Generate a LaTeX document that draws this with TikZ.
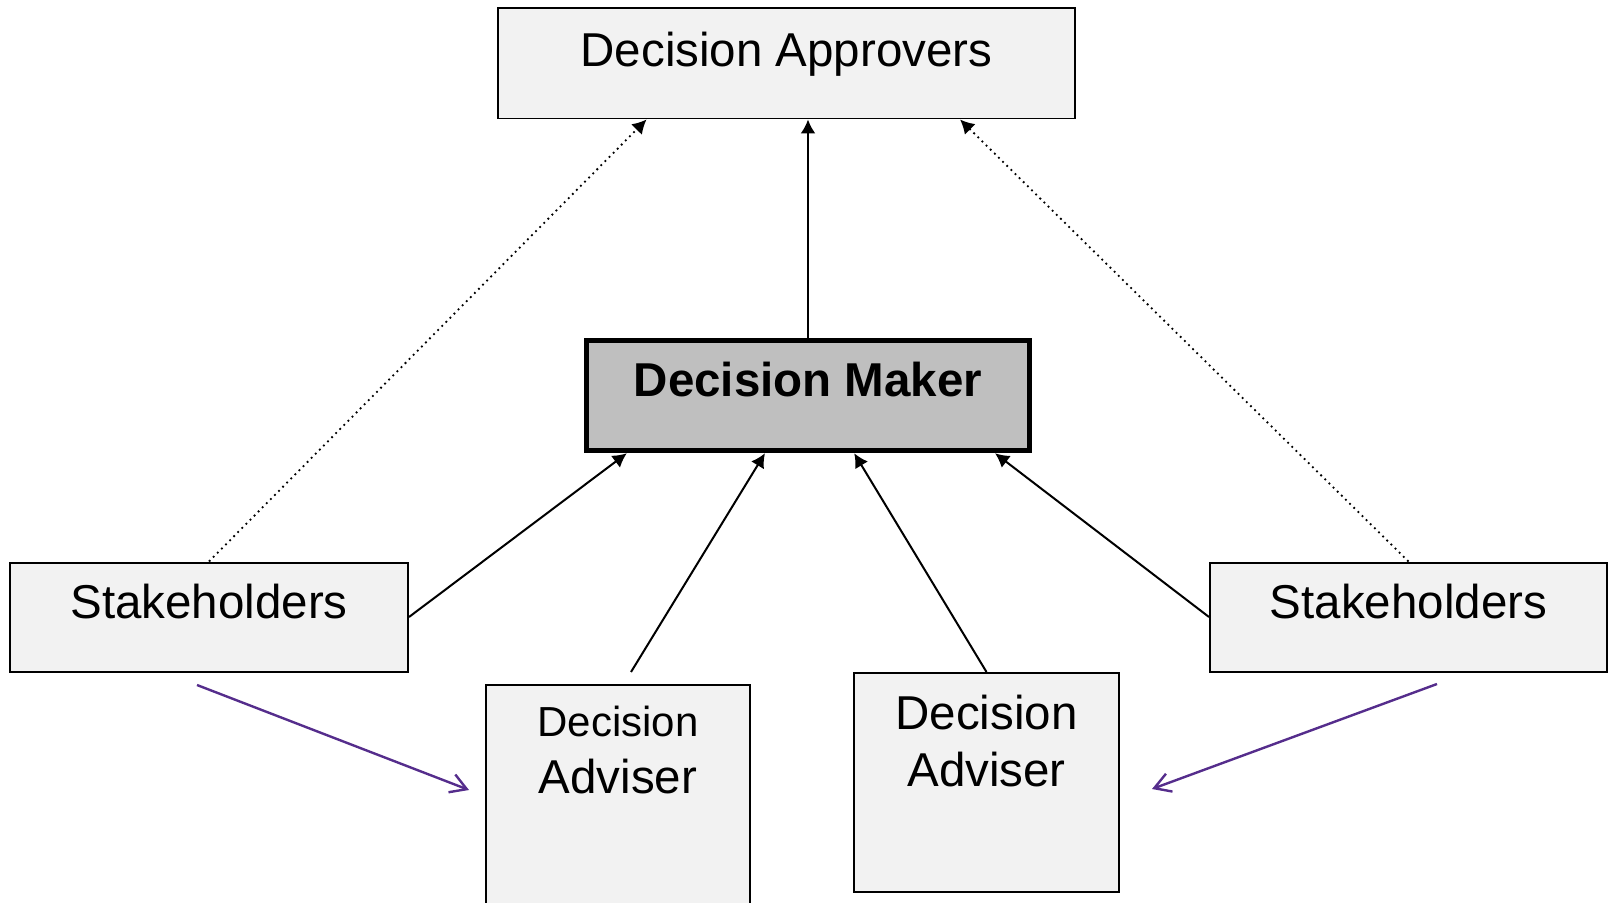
\documentclass[tikz,border=0pt]{standalone}
\usepackage{fontspec}
\setmainfont{Liberation Sans}
\usetikzlibrary{arrows.meta,calc}
\definecolor{boxgray}{HTML}{F2F2F2}
\definecolor{makergray}{HTML}{BFBFBF}
\definecolor{advpurple}{RGB}{85,45,140}

\begin{document}
\begin{tikzpicture}[x=0.5pt,y=-0.5pt,>={Latex[length=7pt,width=7.5pt]},
      font=\fontsize{23.75}{28.5}\selectfont,
      box/.style={draw, fill=boxgray, line width=1pt, inner sep=0pt, align=center},
      link/.style={->, line width=1pt},
      hint/.style={->, line width=0.9pt, dotted},
      feed/.style={-{Straight Barb[length=8pt,width=9.5pt]}, line width=1.2pt, advpurple}]
     \useasboundingbox (0,0) rectangle (1610,903);
     \node[box, line width=0.75pt, minimum width=288.5pt, minimum height=55.25pt,
           text height=17pt, text depth=14pt] (approvers) at (786.5,63.5) {Decision Approvers};
     \node[box, fill=makergray, line width=2.75pt, minimum width=221.5pt, minimum height=55pt,
           text height=17pt, text depth=16pt, font=\fontsize{23.75}{28.5}\selectfont\bfseries] (maker) at (808,395.5) {Decision Maker};
     \node[box, minimum width=199pt, minimum height=54.5pt,
           text height=17pt, text depth=15.5pt] (stakeL) at (209,617) {Stakeholders};
     \node[box, minimum width=198.5pt, minimum height=54.5pt,
           text height=17pt, text depth=15.5pt] (stakeR) at (1408.5,617) {Stakeholders};
     \node[box, minimum width=132pt, minimum height=109.5pt,
           text height=45.5pt, text depth=47pt] (advL) at (618,794.5) {{\fontsize{21}{28.5}\selectfont Decision}\\Adviser};
     \node[box, minimum width=132.5pt, minimum height=109.5pt,
           text height=45.5pt, text depth=42pt] (advR) at (986.5,782.5) {Decision\\Adviser};
     % links into the approvers
     \draw[link] (maker.north) -- (maker.north |- approvers.south);
     \draw[hint] (stakeL.north) -- ($(approvers.south west)!0.258!(approvers.south east)$);
     \draw[hint] (stakeR.north) -- ($(approvers.south west)!0.8!(approvers.south east)$);
     % links into the maker
     \draw[link] (stakeL.east) -- ($(maker.south west)!0.096!(maker.south east)$);
     \draw[link] ($(advL.north)+(13,-12)$) -- ($(maker.south west)!0.404!(maker.south east)$);
     \draw[link] (advR.north) -- ($(maker.south west)!0.603!(maker.south east)$);
     \draw[link] (stakeR.west) -- ($(maker.south west)!0.917!(maker.south east)$);
     % stakeholders to advisers
     \coordinate (feedL) at (197,685);
     \coordinate (feedLtip) at (469,790);
     \coordinate (feedR) at (1437,684);
     \coordinate (feedRtip) at (1152,789);
     \draw[feed] (feedL) -- (feedLtip);
     \draw[feed] (feedR) -- (feedRtip);
\end{tikzpicture}
\end{document}
